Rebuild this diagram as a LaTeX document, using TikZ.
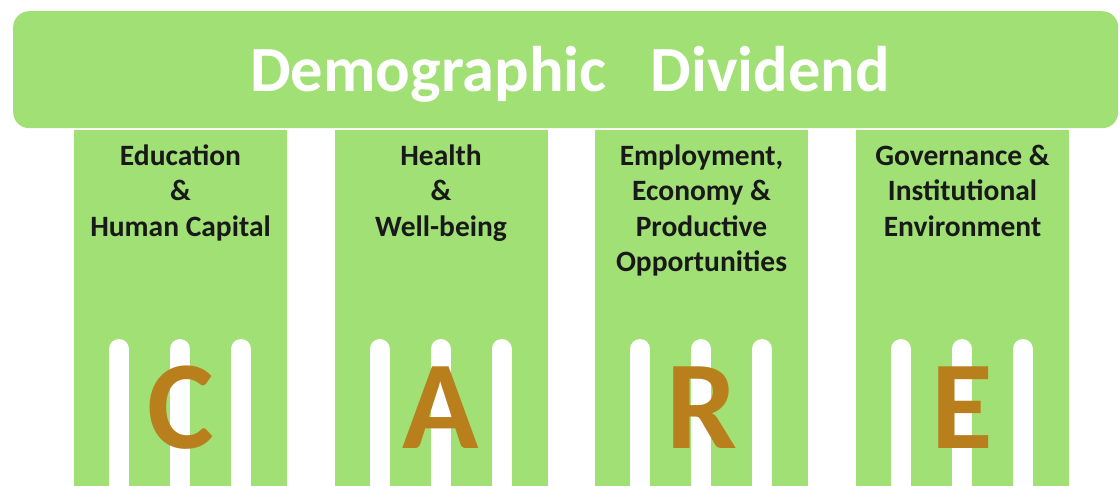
\documentclass[tikz,border=0pt]{standalone}
\usepackage{fontspec}
\setmainfont{Carlito}
\definecolor{pillargreen}{RGB}{160,224,116}
\definecolor{caregold}{RGB}{184,127,28}
\tikzset{
  pillar/.style={fill=pillargreen,draw=none},
  flute/.style={white,line width=20pt,line cap=round},
  ptext/.style={anchor=north,align=center,text=black!90,inner sep=0pt,
    font=\bfseries\fontsize{29.5}{35.5}\selectfont},
  letter/.style={anchor=base,text=caregold,inner sep=0pt,
    font=\bfseries\fontsize{126}{126}\selectfont}
}

\begin{document}
\begin{tikzpicture}[x=1pt,y=-1pt]
  \useasboundingbox (0,0) rectangle (1120,486);
  \node[pillar,rounded corners=16pt,minimum width=1105pt,minimum height=117pt,anchor=north west] (banner) at (13,11) {};
  \node[anchor=base,text=white,inner sep=0pt,font=\bfseries\fontsize{64.5}{64.5}\selectfont] (title) at (570,92) {Demographic\hspace{44pt}Dividend};
  % four pillars: left edge / name / heading / letter
  \foreach \x/\n/\t/\l in {74/edu/{Education\\\&\\Human Capital}/C,
      334.5/health/{Health\\\&\\Well-being}/A,
      595/emp/{Employment,\\Economy \&\\Productive\\Opportunities}/R,
      856/gov/{Governance \&\\Institutional\\Environment}/E} {
    \fill[pillar] (\x,130) rectangle ++(213,360);
    \foreach \d in {45,106,167}
      \draw[flute] (\x+\d,349) -- (\x+\d,500);
    \node[ptext] (\n) at (\x+106.5,144.5) {\t};
    \node[letter] (\n-letter) at (\x+106.5,448) {\l};
  }
\end{tikzpicture}
\end{document}
